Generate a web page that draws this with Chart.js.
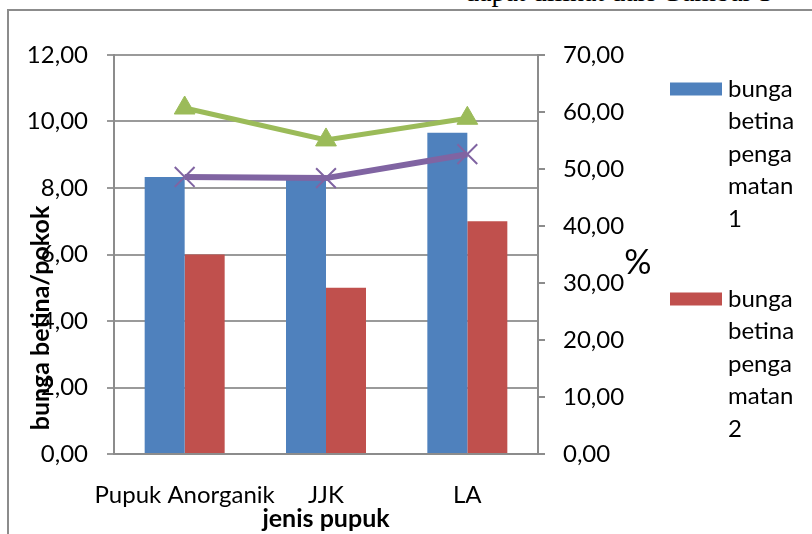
<!DOCTYPE html>
<html>
<head>
<meta charset="utf-8">
<script src="https://cdn.jsdelivr.net/npm/chart.js@4"></script>
<style>
  html, body { margin: 0; padding: 0; background: #fff; }
  #wrap { position: relative; width: 812px; height: 534px; overflow: hidden; }
  #frame { position: absolute; left: 7px; top: 9px; width: 900px; height: 700px; border: 2px solid #8c8c8c; }
  #topText { position: absolute; left: 465px; top: -22px; font-family: "Liberation Serif", serif; font-size: 28px; line-height: 1; white-space: nowrap; color: #000; }
  #chart { position: absolute; left: 0; top: 0; }
</style>
</head>
<body>
<div id="wrap">
  <div id="topText">dapat dilihat dari Gambar 3</div>
  <div id="frame"></div>
  <canvas id="chart" width="812" height="534"></canvas>
</div>
<script>
// --- Data ---
const categories = ["Pupuk Anorganik", "JJK", "LA"];
const pengamatan1 = [8.33, 8.33, 9.66];   // bunga/pokok, blue bars
const pengamatan2 = [6.00, 5.00, 7.00];   // bunga/pokok, red bars
const persenGreen = [60.7, 55.1, 58.9];   // %, right axis
const persenPurple = [48.6, 48.4, 52.6];  // %, right axis

const leftTicks = { min: 0, max: 12, step: 2 };
const rightTicks = { min: 0, max: 70, step: 10 };

// legend text is wrapped like in the original
const legendLines = [
    ["bunga", "betina", "penga", "matan", "1"],
    ["bunga", "betina", "penga", "matan", "2"]
];

const FONT = "Lato";
const GREY = "#8c8c8c";
const fmt = v => Number(v).toFixed(2).replace(".", ",");

// --- Extra text: axis titles and the wrapped legend ---
const extrasPlugin = {
    id: "extras",
    afterDraw(chart) {
        const ctx = chart.ctx;
        ctx.save();
        ctx.fillStyle = "#000";

        // left axis title (rotated)
        ctx.save();
        ctx.translate(41, 318);
        ctx.rotate(-Math.PI / 2);
        ctx.font = `bold 25px ${FONT}`;
        ctx.textAlign = "center";
        ctx.textBaseline = "middle";
        ctx.fillText("bunga betina/pokok", 0, 0);
        ctx.restore();

        // right axis title
        ctx.font = `34px ${FONT}`;
        ctx.textAlign = "center";
        ctx.textBaseline = "middle";
        ctx.fillText("%", 638, 263);

        // legend, only the bar series
        ctx.font = `24px ${FONT}`;
        ctx.textAlign = "left";
        const bars = chart.data.datasets.filter(d => d.type === "bar");
        bars.forEach((ds, i) => {
            const y0 = 89 + i * 210;
            ctx.fillStyle = ds.backgroundColor;
            ctx.fillRect(670, y0 - 6.5, 52, 13);
            ctx.fillStyle = "#000";
            legendLines[i].forEach((line, k) => {
                ctx.fillText(line, 728, y0 + k * 32.5);
            });
        });
        ctx.restore();
    }
};

const ctx = document.getElementById("chart").getContext("2d");

new Chart(ctx, {
    data: {
        labels: categories,
        datasets: [
            {
                type: "line",
                label: "% (hijau)",
                data: persenGreen,
                yAxisID: "y2",
                borderColor: "#9bbb59",
                backgroundColor: "#9bbb59",
                borderWidth: 5,
                pointStyle: "triangle",
                pointRadius: 12,
                pointBorderWidth: 1,
                order: 0
            },
            {
                type: "line",
                label: "% (ungu)",
                data: persenPurple,
                yAxisID: "y2",
                borderColor: "#8064a2",
                backgroundColor: "#8064a2",
                borderWidth: 6,
                pointStyle: "crossRot",
                pointRadius: 14,
                pointBorderWidth: 2,
                order: 0
            },
            {
                type: "bar",
                label: "bunga betina pengamatan 1",
                data: pengamatan1,
                yAxisID: "y",
                backgroundColor: "#4f81bd",
                order: 1
            },
            {
                type: "bar",
                label: "bunga betina pengamatan 2",
                data: pengamatan2,
                yAxisID: "y",
                backgroundColor: "#c0504d",
                order: 1
            }
        ]
    },
    options: {
        responsive: false,
        animation: false,
        layout: { padding: { top: 55, left: 0, right: 0, bottom: 0 } },
        datasets: {
            bar: { categoryPercentage: 0.566, barPercentage: 1 }
        },
        plugins: {
            legend: { display: false },
            tooltip: { enabled: false }
        },
        scales: {
            x: {
                grid: { display: false },
                border: { color: GREY, width: 2 },
                ticks: { color: "#000", font: { family: FONT, size: 24 }, padding: 19, maxRotation: 0, autoSkip: false },
                title: {
                    display: true,
                    text: "jenis pupuk",
                    color: "#000",
                    font: { family: FONT, size: 25, weight: "bold" },
                    padding: { top: 0, bottom: 0 }
                },
                afterFit(s) { s.height = 80; }
            },
            y: {
                position: "left",
                min: leftTicks.min,
                max: leftTicks.max,
                grid: { color: "#9a9a9a", lineWidth: 2, tickLength: 7 },
                border: { color: GREY, width: 2 },
                ticks: {
                    stepSize: leftTicks.step,
                    color: "#000",
                    font: { family: FONT, size: 24 },
                    padding: 19,
                    callback: fmt
                },
                afterFit(s) { s.width = 114; }
            },
            y2: {
                position: "right",
                min: rightTicks.min,
                max: rightTicks.max,
                grid: { drawOnChartArea: false, color: GREY, lineWidth: 2, tickLength: 7 },
                border: { color: GREY, width: 2 },
                ticks: {
                    stepSize: rightTicks.step,
                    color: "#000",
                    font: { family: FONT, size: 24 },
                    padding: 18,
                    callback: fmt
                },
                afterFit(s) { s.width = 274; }
            }
        }
    },
    plugins: [extrasPlugin]
});
</script>
</body>
</html>
